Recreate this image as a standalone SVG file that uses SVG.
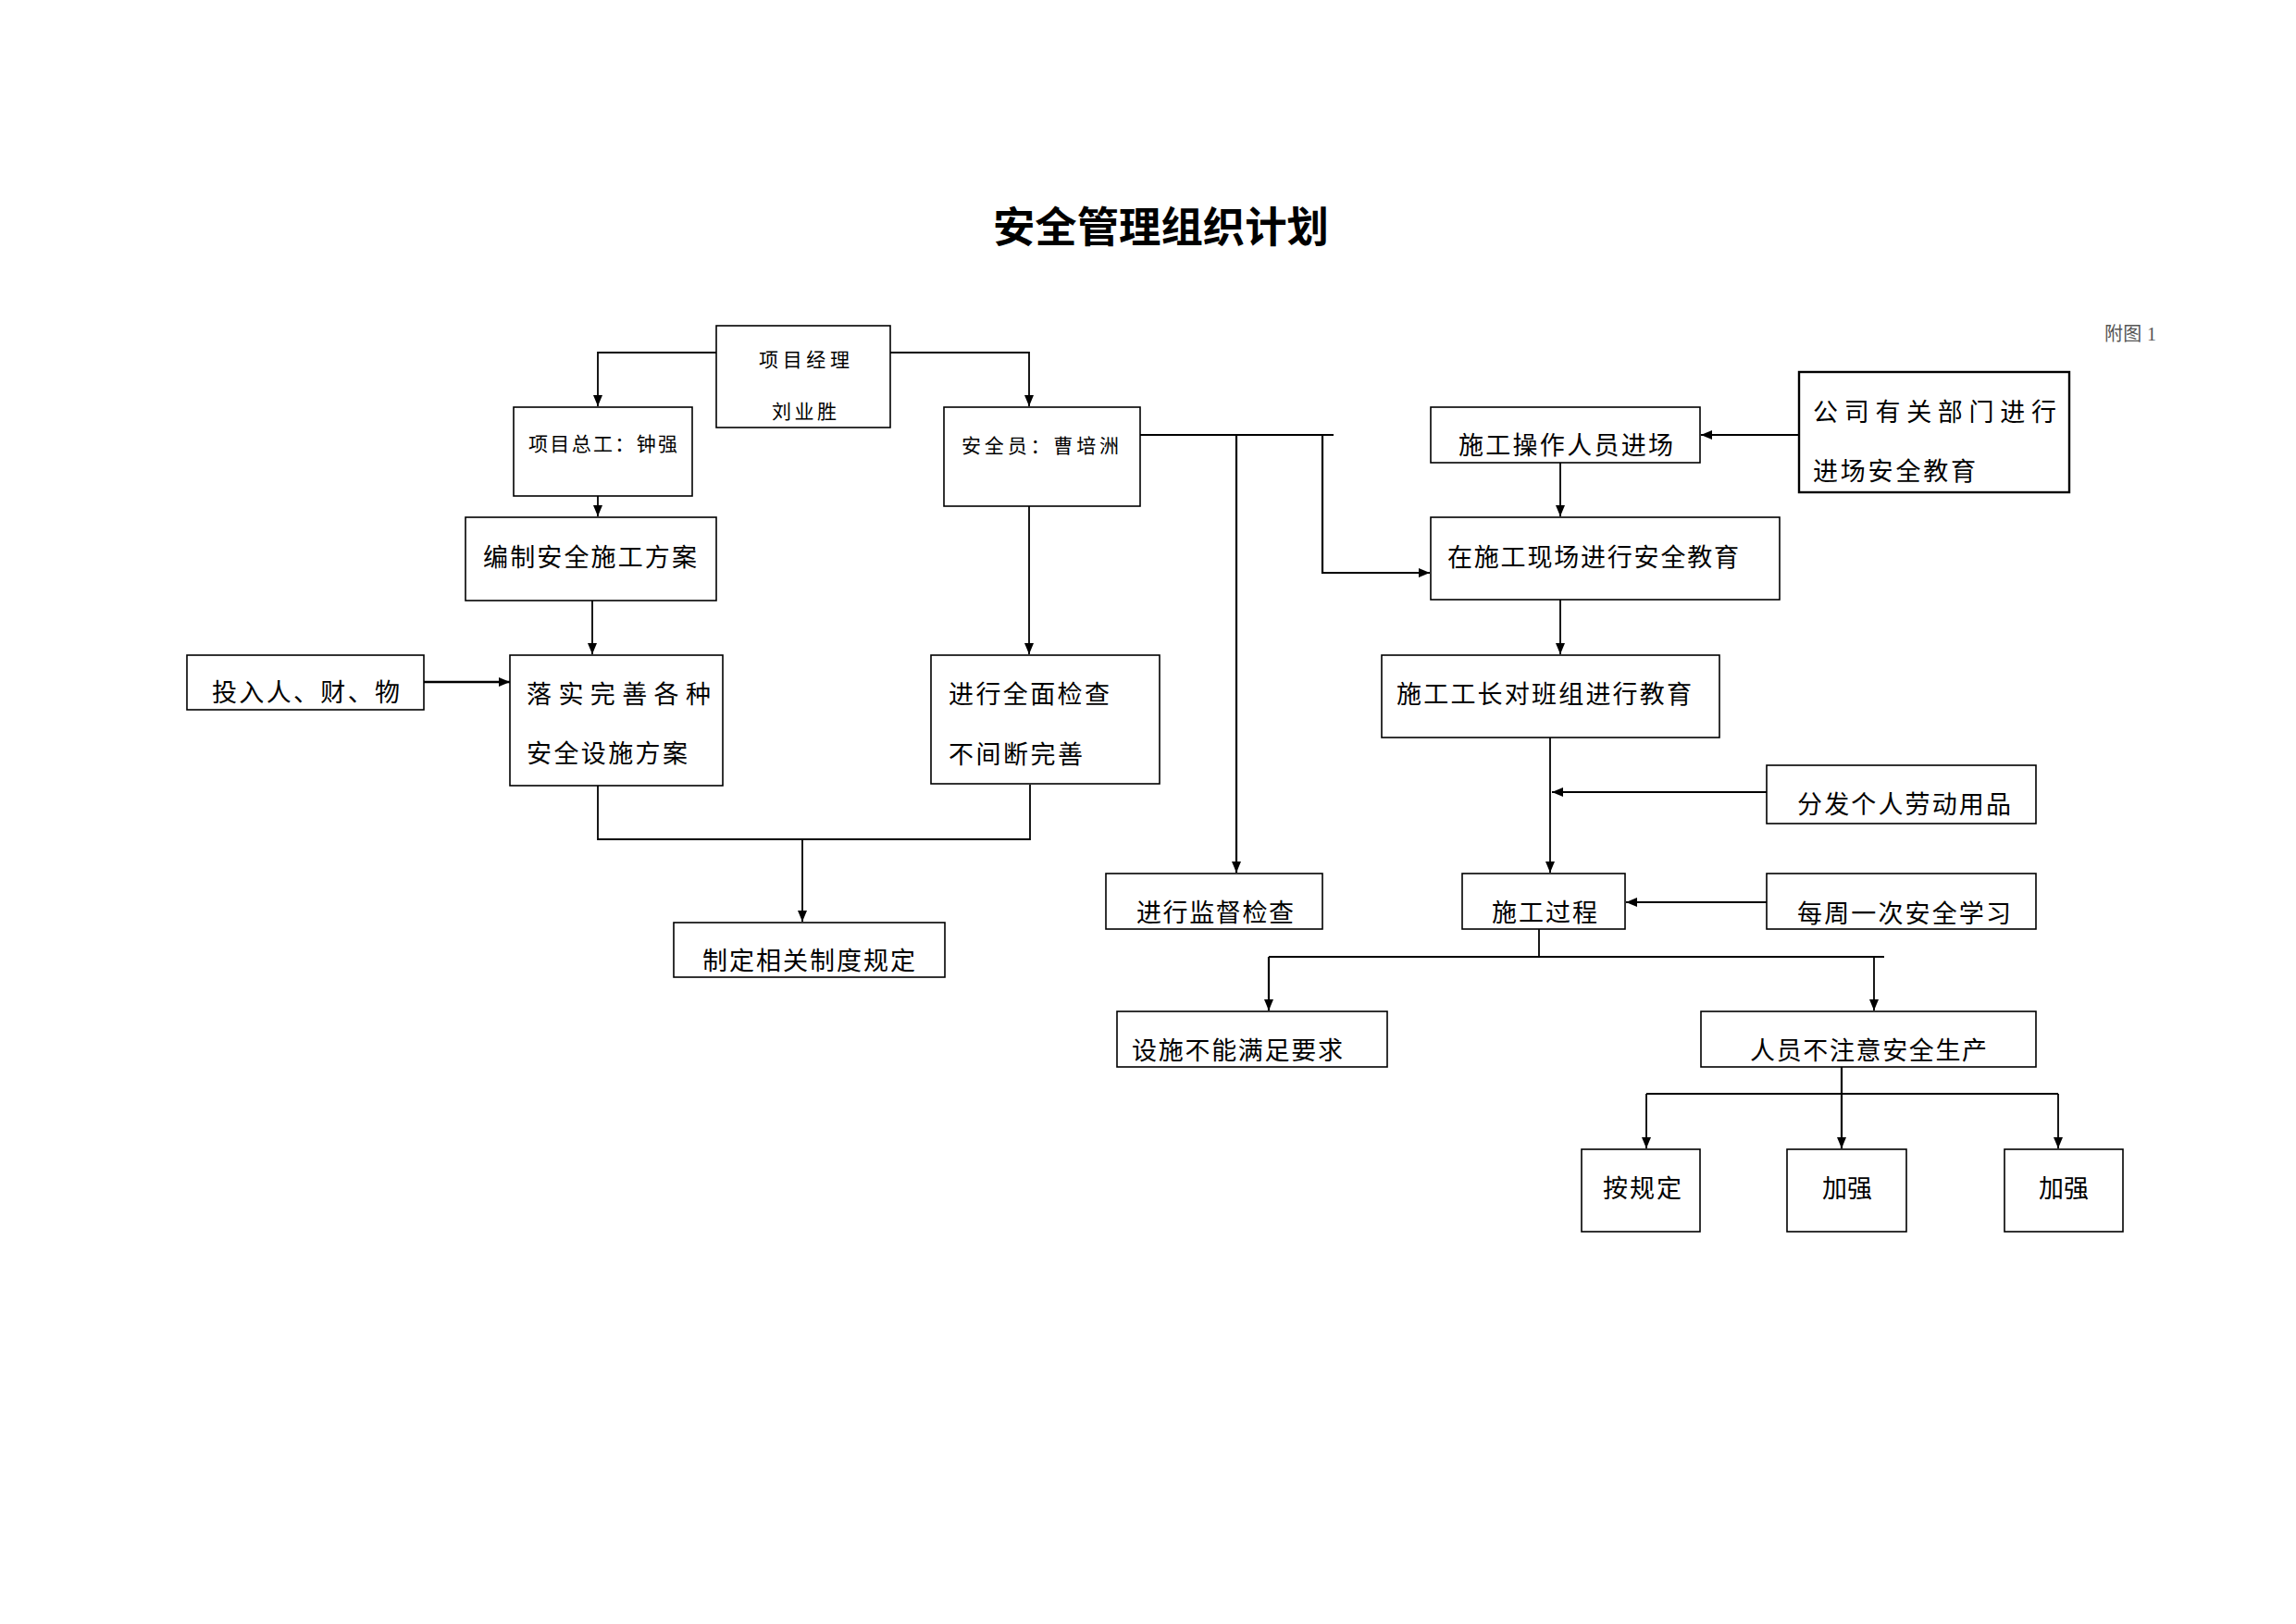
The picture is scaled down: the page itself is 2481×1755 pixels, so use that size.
<svg xmlns="http://www.w3.org/2000/svg" width="2481" height="1755" viewBox="0 0 2481 1755">
<defs>
<style>
.box{fill:#fff;stroke:#000;stroke-width:1.6}
.t{font-family:"Noto Sans CJK SC","Noto Sans",sans-serif;font-size:27px;fill:#000}
.s{font-family:"Noto Sans CJK SC","Noto Sans",sans-serif;font-size:21px;fill:#000}
.c{fill:none;stroke:#000;stroke-width:1.8}
.ca{fill:none;stroke:#000;stroke-width:1.8;marker-end:url(#ah)}
</style>
<marker id="ah" viewBox="0 0 12 10" refX="12" refY="5" markerWidth="12" markerHeight="10" orient="auto" markerUnits="userSpaceOnUse">
<path d="M0,0 L12,5 L0,10 z" fill="#000"/>
</marker>
</defs>
<rect width="2481" height="1755" fill="#fff"/>

<text x="1073" y="262" font-family="'Noto Sans CJK SC',sans-serif" font-size="45" font-weight="bold" textLength="363" lengthAdjust="spacingAndGlyphs">安全管理组织计划</text>
<text x="2274" y="368" font-family="'Liberation Serif','Noto Sans CJK SC',serif" font-size="20" textLength="56" fill="#555">附图 1</text>

<g id="connectors">
<path class="ca" d="M774,381 H646 V439"/>
<path class="ca" d="M962,381 H1112 V439"/>
<path class="ca" d="M646,500 V558"/>
<path class="ca" d="M640,649 V707"/>
<path class="ca" d="M458,737 H551" style="stroke-width:2.5"/>
<path class="ca" d="M1112,500 V707"/>
<path class="c" d="M646,849 V907 H1113 V848"/>
<path class="ca" d="M867,907 V996"/>
<path class="c" d="M1208,470 H1441" style="stroke-width:2.2"/>
<path class="ca" d="M1336,470 V943" style="stroke-width:2.2"/>
<path class="ca" d="M1429,470 V619 H1545" style="stroke-width:2.2"/>
<path class="ca" d="M1944,470 H1838" style="stroke-width:2.2"/>
<path class="ca" d="M1686,500 V558"/>
<path class="ca" d="M1686,648 V707"/>
<path class="ca" d="M1675,797 V943"/>
<path class="ca" d="M1909,856 H1677" style="stroke-width:2.2"/>
<path class="ca" d="M1909,975 H1757" style="stroke-width:2.2"/>
<path class="c" d="M1663,1004 V1034"/>
<path class="c" d="M1371,1034 H2036" style="stroke-width:2.2"/>
<path class="ca" d="M1371,1034 V1092" style="stroke-width:2.2"/>
<path class="ca" d="M2025,1034 V1092"/>
<path class="ca" d="M1990,1153 V1241" style="stroke-width:2.2"/>
<path class="c" d="M1779,1182 H2224"/>
<path class="ca" d="M1779,1182 V1241"/>
<path class="ca" d="M2224,1182 V1241"/>
</g>

<g id="pm"><rect class="box" x="774" y="352" width="188" height="110"/>
<text class="s" x="820" y="396" textLength="98">项目经理</text>
<text class="s" x="834" y="452" textLength="70">刘业胜</text></g>

<g id="chief"><rect class="box" x="555" y="440" width="193" height="96"/>
<text class="s" x="571" y="487" textLength="161">项目总工：钟强</text></g>

<g id="safety"><rect class="box" x="1020" y="440" width="212" height="107"/>
<text class="s" x="1039" y="489" textLength="170">安全员：曹培洲</text></g>

<g id="plan"><rect class="box" x="503" y="559" width="271" height="90"/>
<text class="t" x="522" y="612" textLength="231">编制安全施工方案</text></g>

<g id="input"><rect class="box" x="202" y="708" width="256" height="59"/>
<text class="t" x="229" y="758" textLength="203">投入人、财、物</text></g>

<g id="implement"><rect class="box" x="551" y="708" width="230" height="141"/>
<text class="t" x="569" y="760" textLength="199">落实完善各种</text>
<text class="t" x="569" y="824" textLength="174">安全设施方案</text></g>

<g id="inspect"><rect class="box" x="1006" y="708" width="247" height="139"/>
<text class="t" x="1025" y="760" textLength="174">进行全面检查</text>
<text class="t" x="1025" y="825" textLength="145">不间断完善</text></g>

<g id="rules"><rect class="box" x="728" y="997" width="293" height="59"/>
<text class="t" x="759" y="1048" textLength="230">制定相关制度规定</text></g>

<g id="supervise"><rect class="box" x="1195" y="944" width="234" height="60"/>
<text class="t" x="1228" y="996" textLength="170">进行监督检查</text></g>

<g id="process"><rect class="box" x="1580" y="944" width="176" height="60"/>
<text class="t" x="1612" y="996" textLength="114">施工过程</text></g>

<g id="weekly"><rect class="box" x="1909" y="944" width="291" height="60"/>
<text class="t" x="1942" y="997" textLength="231">每周一次安全学习</text></g>

<g id="ppe"><rect class="box" x="1909" y="827" width="291" height="63"/>
<text class="t" x="1942" y="879" textLength="231">分发个人劳动用品</text></g>

<g id="workers"><rect class="box" x="1546" y="440" width="291" height="60"/>
<text class="t" x="1576" y="491" textLength="232">施工操作人员进场</text></g>

<g id="company"><rect class="box" x="1944" y="402" width="292" height="130" style="stroke-width:2.4"/>
<text class="t" x="1959" y="455" textLength="263">公司有关部门进行</text>
<text class="t" x="1959" y="519" textLength="176">进场安全教育</text></g>

<g id="siteedu"><rect class="box" x="1546" y="559" width="377" height="89"/>
<text class="t" x="1564" y="612" textLength="315">在施工现场进行安全教育</text></g>

<g id="foreman"><rect class="box" x="1493" y="708" width="365" height="89"/>
<text class="t" x="1509" y="760" textLength="319">施工工长对班组进行教育</text></g>

<g id="facility"><rect class="box" x="1207" y="1093" width="292" height="60"/>
<text class="t" x="1223" y="1145" textLength="228">设施不能满足要求</text></g>

<g id="people"><rect class="box" x="1838" y="1093" width="362" height="60"/>
<text class="t" x="1891" y="1145" textLength="256">人员不注意安全生产</text></g>

<g id="regulate"><rect class="box" x="1709" y="1242" width="128" height="89"/>
<text class="t" x="1732" y="1294" textLength="85">按规定</text></g>

<g id="strengthen1"><rect class="box" x="1931" y="1242" width="129" height="89"/>
<text class="t" x="1969" y="1294" textLength="54">加强</text></g>

<g id="strengthen2"><rect class="box" x="2166" y="1242" width="128" height="89"/>
<text class="t" x="2203" y="1294" textLength="54">加强</text></g>
</svg>
